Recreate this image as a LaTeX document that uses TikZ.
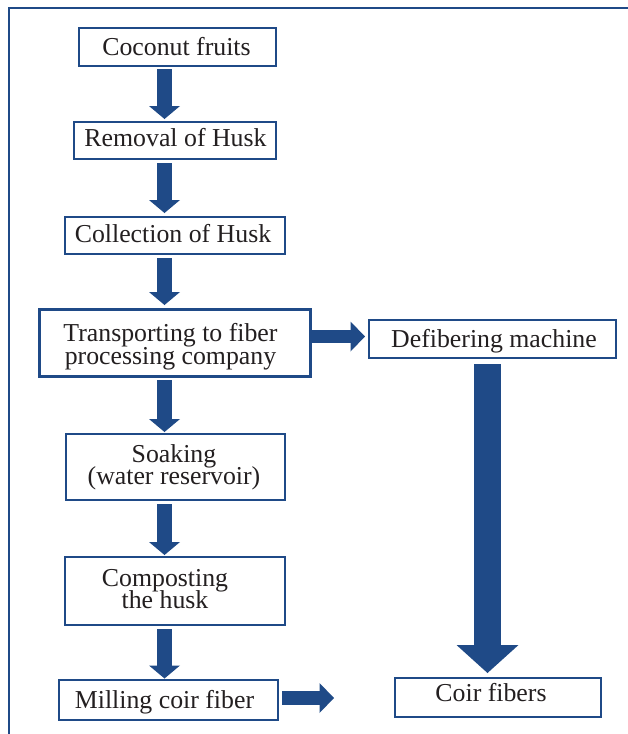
\documentclass[tikz,border=0pt]{standalone}
\usepackage{fontspec}
\setmainfont{Liberation Serif}
\usetikzlibrary{arrows.meta}
\definecolor{flowblue}{HTML}{1F4A87}
\definecolor{inkgray}{HTML}{231F20}
\newcommand{\mytightlines}{\lineskiplimit=-100pt\relax\lineskip=0pt\relax}
\begin{document}
\begin{tikzpicture}[x=1pt,y=-1pt,
  stepbox/.style={draw=flowblue, line width=2.4pt, fill=white, inner sep=0pt},
  boldbox/.style={stepbox, line width=3.4pt},
  txt/.style={text=inkgray, inner sep=0pt, align=center,
    font=\fontsize{25.8}{22}\selectfont\mytightlines},
  txtwide/.style={txt, font=\fontsize{25.8}{23}\selectfont\mytightlines},
  downarrow/.style={draw=flowblue, line width=15pt,
    -{Triangle[width=31pt,length=13pt,line width=0pt]}},
  sidearrow/.style={draw=flowblue, line width=13.5pt,
    -{Triangle[width=30pt,length=14.5pt,line width=0pt]}},
  bigarrow/.style={draw=flowblue, line width=27pt,
    -{Triangle[width=62pt,length=28pt,line width=0pt]}},
  frameline/.style={draw=flowblue, line width=2pt, line join=miter}
]
\useasboundingbox (0,0) rectangle (628,734);
\fill[white] (0,0) rectangle (628,734);
% outer frame (cropped)
\draw[frameline] (8.5,734) -- (8.5,7.5) -- (628,7.5);

% boxes
\node[stepbox, minimum width=196.6pt, minimum height=37.6pt] (b1) at (177.5,47) {};
\node[stepbox, minimum width=201.6pt, minimum height=36.6pt] (b2) at (175,140.5) {};
\node[stepbox, minimum width=219.6pt, minimum height=36.6pt] (b3) at (175,235.5) {};
\node[boldbox, minimum width=270.6pt, minimum height=66.6pt] (b4) at (175,343) {};
\node[stepbox, minimum width=218.6pt, minimum height=65.6pt] (b5) at (175.5,467) {};
\node[stepbox, minimum width=219.6pt, minimum height=67.6pt] (b6) at (175,591) {};
\node[stepbox, minimum width=218.6pt, minimum height=39.6pt] (b7) at (168.5,700) {};
\node[stepbox, minimum width=246.6pt, minimum height=37.6pt] (b8) at (492.5,339) {};
\node[stepbox, minimum width=205.6pt, minimum height=38.6pt] (b9) at (498,697.5) {};

% texts
\node[txt] (t1) at (176.5,46.2) {Coconut fruits};
\node[txt] (t2) at (175.5,137.9) {Removal of Husk};
\node[txt] (t3) at (173,233.5) {Collection of Husk};
\node[txtwide] (t4) at (170.5,346.2) {Transporting to fiber\\processing company};
\node[txt] (t5) at (174,466.8) {Soaking\\(water reservoir)};
\node[txt] (t6) at (165,589.5) {Composting\\the husk};
\node[txt] (t7) at (164.5,702.3) {Milling coir fiber};
\node[txt] (t8) at (494,340.7) {Defibering machine};
\node[txt] (t9) at (491,692.9) {Coir fibers};

% guide coordinates
\coordinate (cx) at (164.5,0);
\coordinate (bx) at (487.5,0);
\coordinate (ry1) at (0,336.5);
\coordinate (ry2) at (0,698);
\coordinate (mend) at (334,698);

% down arrows
\draw[downarrow, shorten <=2pt, shorten >=2pt] (b1.south -| cx) -- (b2.north -| cx);
\draw[downarrow, shorten <=3pt, shorten >=3pt] (b2.south -| cx) -- (b3.north -| cx);
\draw[downarrow, shorten <=3pt, shorten >=3pt] (b3.south -| cx) -- (b4.north -| cx);
\draw[downarrow, shorten <=2pt, shorten >=1pt] (b4.south -| cx) -- (b5.north -| cx);
\draw[downarrow, shorten <=3pt, shorten >=1pt] (b5.south -| cx) -- (b6.north -| cx);
\draw[downarrow, shorten <=3pt, shorten >=0.5pt] (b6.south -| cx) -- (b7.north -| cx);

% side arrows
\draw[sidearrow] (b4.east |- ry1) -- ([xshift=-3pt]b8.west |- ry1);
\draw[sidearrow, shorten <=3pt] (b7.east |- ry2) -- (mend);

% big arrow
\draw[bigarrow, shorten <=5pt, shorten >=4pt] (b8.south -| bx) -- (b9.north -| bx);
\end{tikzpicture}
\end{document}
